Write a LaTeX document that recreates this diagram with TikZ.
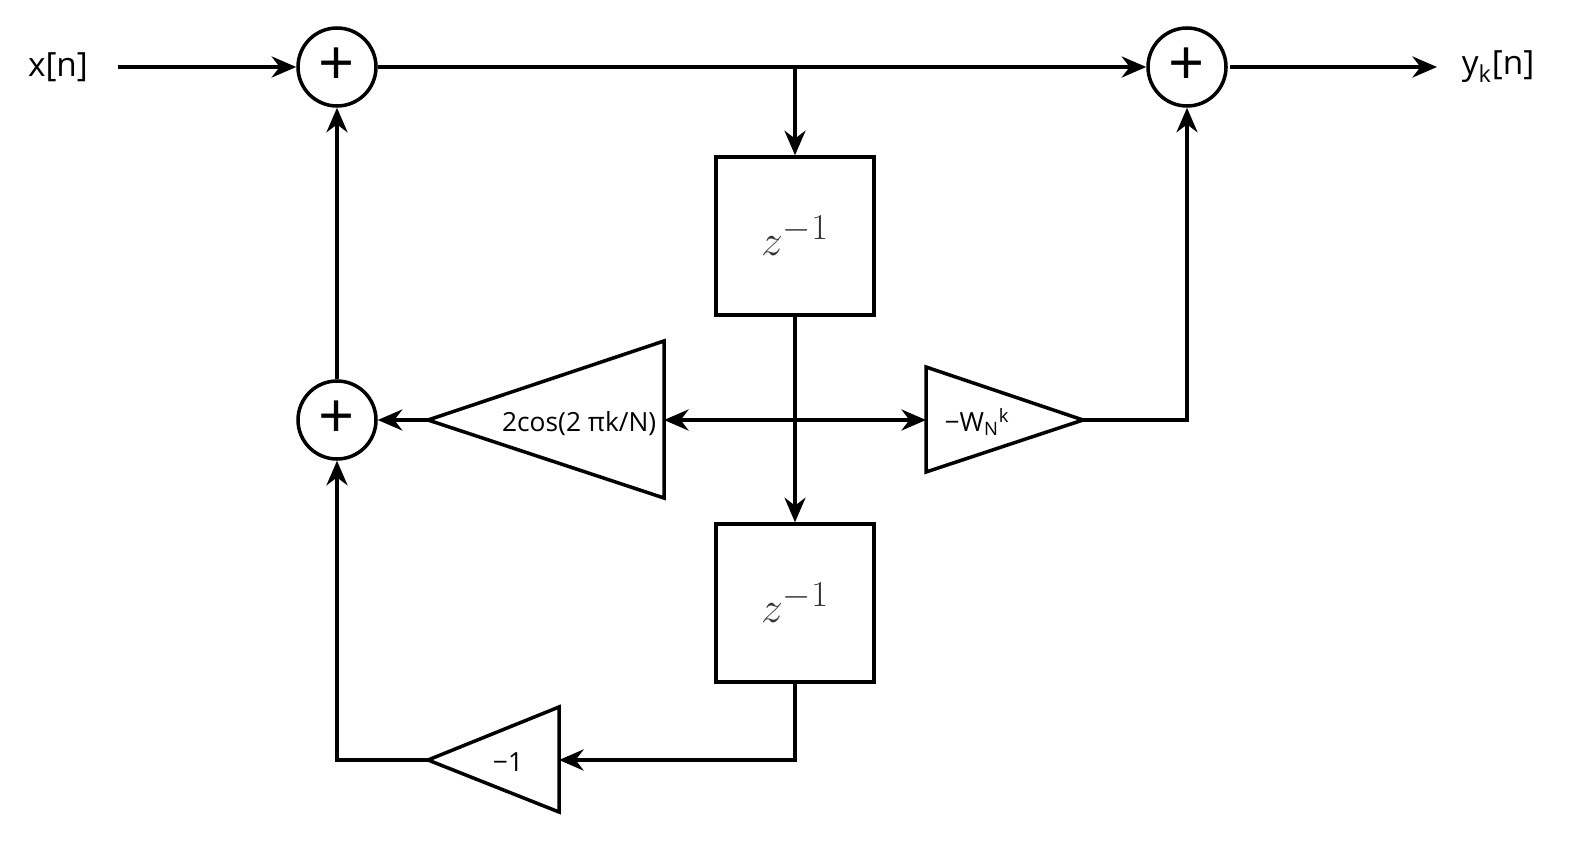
\documentclass[tikz,border=0pt]{standalone}
\usepackage{fontspec}
\setmainfont{Open Sans}
\usetikzlibrary{arrows.meta}
\begin{document}
\begin{tikzpicture}[x=0.02cm,y=-0.02cm,
  line width=2pt,
  sum/.style={draw,circle,minimum size=78*0.02cm,inner sep=0pt,font=\fontsize{36}{36}\selectfont},
  box/.style={draw,minimum size=158*0.02cm,inner sep=0pt,font=\fontsize{32}{32}\selectfont},
  lbl/.style={font=\fontsize{19}{19}\selectfont},
  gain/.style={font=\fontsize{15}{15}\selectfont,inner sep=0pt},
  arr/.style={-{Stealth[length=14pt,width=12pt]}},
  darr/.style={{Stealth[length=14pt,width=12pt]}-{Stealth[length=14pt,width=12pt]}}]
\useasboundingbox (0,0) rectangle (1574,841);
\node[lbl] (x) at (58,67) {x[n]};
\node[lbl] (y) at (1498,67) {y\textsubscript{k}[n]};
\node[sum] (s1) at (337,67) {+};
\node[sum] (s2) at (1187,67) {+};
\node[sum] (s3) at (337,420) {+};
\node[box] (b1) at (795,236) {\textcolor{black!80}{$z^{-1}$}};
\node[box] (b2) at (795,603) {\textcolor{black!80}{$z^{-1}$}};
\coordinate (j) at (795,67);
% triangles
\coordinate (ca) at (428,420); \coordinate (cr) at (664,420);
\draw (ca) -- (664,341) -- (664,498) -- cycle;
\node[gain,anchor=east] (ct) at (658,424) {2cos(2 πk/N)};
\coordinate (wl) at (926,420); \coordinate (wa) at (1083,420);
\draw (wa) -- (926,367) -- (926,472) -- cycle;
\node[gain] (wt) at (977,422) {−W\textsubscript{N}\textsuperscript{k}};
\coordinate (ma) at (428,760); \coordinate (mr) at (559,760);
\draw (ma) -- (559,707) -- (559,812) -- cycle;
\node[gain] (mt) at (508,762) {−1};
\coordinate (c2) at (795,760);
\coordinate (c3) at (337,760);
% connectors
\draw[arr] (x.east)++(22,0) -- (s1.west);
\draw[arr] (s1) -- (s2);
\draw[arr] (s2.east)++(2,0) -- (1437,67) coordinate (yin);
\draw[arr] (j) -- (b1.north);
\draw[arr] (b1.south) -- (b2.north);
\draw[darr] (cr) -- (wl);
\draw[arr] (ca) -- (s3.east);
\draw[arr] (s3.north) -- (s1.south);
\draw[arr] (wa) -| (s2.south);
\draw[arr] (b2.south) -- (c2) -- (mr);
\draw[arr] (ma) -- (c3) -- (s3.south);
\end{tikzpicture}
\end{document}
